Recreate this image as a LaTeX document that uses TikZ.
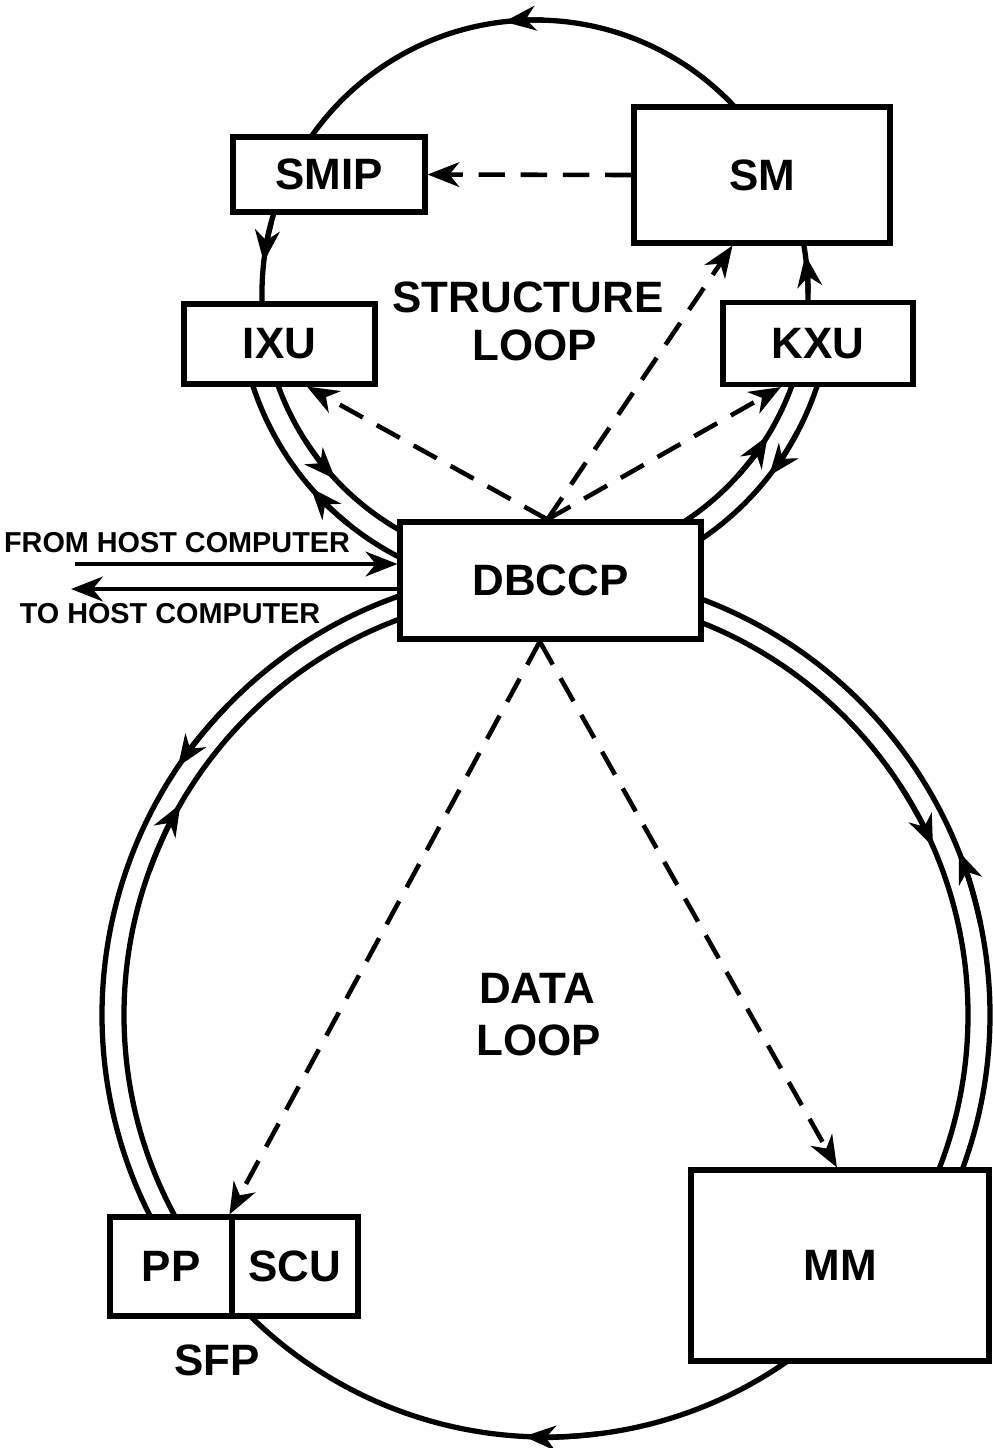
\documentclass[tikz,border=0pt]{standalone}
\usepackage{fontspec}
\setmainfont{Liberation Sans}
\usetikzlibrary{arrows.meta,calc}

% short arc along a ring ending in an arrow tip: centre, radius, from angle, to angle
\newcommand\ringtip[4]{\draw[ring,->] ($(#1)+(#3:#2)$) arc[start angle=#3, end angle=#4, radius=#2];}

\begin{document}
\begin{tikzpicture}[
  >={Stealth[length=9pt,width=7pt,inset=2.8pt]},
  unit/.style={draw, line width=1.45pt, fill=white, rectangle, inner sep=0pt,
               font=\bfseries\fontsize{12.5}{15}\selectfont},
  ring/.style={line width=1.5pt},
  flow/.style={line width=1.3pt, dash pattern=on 7.5pt off 4.5pt, ->},
  hostline/.style={line width=1.4pt, ->},
  tag/.style={font=\bfseries\fontsize{8.2}{10}\selectfont, inner sep=0pt},
  title/.style={font=\bfseries\fontsize{12.5}{15}\selectfont, inner sep=0pt},
]
\useasboundingbox (0,0) rectangle (9.93,-14.48);

% ring centres
\coordinate (U) at (5.35,-2.93);
\coordinate (L) at (5.46,-10.15);

% ---- structure loop ----
\draw[ring] (U) circle[radius=2.73];
\draw[ring] ($(U)+(195:2.97)$) arc[start angle=195, end angle=245, radius=2.97];
\draw[ring] ($(U)+(345:2.97)$) arc[start angle=345, end angle=300, radius=2.97];
\ringtip{U}{2.73}{88}{96.5}
\ringtip{U}{2.73}{165}{173.5}
\ringtip{U}{2.73}{0}{8}
\ringtip{U}{2.73}{213}{223}
\ringtip{U}{2.97}{231}{221}
\ringtip{U}{2.73}{318}{328.5}
\ringtip{U}{2.97}{332}{322}

% ---- data loop ----
\draw[ring] (L) circle[radius=4.22];
\draw[ring] ($(L)+(105:4.44)$) arc[start angle=105, end angle=210, radius=4.44];
\draw[ring] ($(L)+(75:4.44)$) arc[start angle=75, end angle=-25, radius=4.44];
\ringtip{L}{4.44}{136}{146}
\ringtip{L}{4.22}{160}{150}
\ringtip{L}{4.22}{33}{23.5}
\ringtip{L}{4.44}{12}{21.6}
\ringtip{L}{4.22}{277}{267}

% ---- units ----
\node[unit, minimum width=1.92cm, minimum height=0.75cm] (SMIP) at (3.29,-1.745) {SMIP};
\node[unit, minimum width=2.56cm, minimum height=1.36cm] (SM) at (7.62,-1.75) {SM};
\node[unit, minimum width=1.91cm, minimum height=0.80cm] (IXU) at (2.795,-3.44) {IXU};
\node[unit, minimum width=1.90cm, minimum height=0.82cm] (KXU) at (8.18,-3.435) {KXU};
\node[unit, minimum width=3.01cm, minimum height=1.17cm] (DBCCP) at (5.505,-5.805) {DBCCP};
\node[unit, minimum width=1.22cm, minimum height=0.99cm] (PP) at (1.71,-12.665) {PP};
\node[unit, minimum width=1.26cm, minimum height=0.99cm] (SCU) at (2.95,-12.665) {SCU};
\node[unit, minimum width=2.98cm, minimum height=1.91cm] (MM) at (8.40,-12.655) {MM};

% ---- control paths ----
\coordinate (dtop) at ($(DBCCP.north west)!0.49!(DBCCP.north east)$);
\coordinate (dbot) at ($(DBCCP.south west)!0.465!(DBCCP.south east)$);
\draw[flow] (SM.west) -- (SMIP.east);
\draw[flow] (dtop) -- ($(IXU.south west)!0.64!(IXU.south east)$);
\draw[flow] (dtop) -- ($(SM.south west)!0.387!(SM.south east)$);
\draw[flow] (dtop) -- ($(KXU.south west)!0.31!(KXU.south east)$);
\draw[flow] (dbot) -- (SCU.north west);
\draw[flow] (dbot) -- ($(MM.north west)!0.49!(MM.north east)$);

% ---- host link ----
\coordinate (hostin) at (0.75,-5.64);
\coordinate (hostout) at (0.71,-5.89);
\draw[hostline] (hostin) -- (DBCCP.west |- hostin);
\draw[hostline] (DBCCP.west |- hostout) -- (hostout);

% ---- labels ----
\node[tag] (from) at (1.77,-5.43) {FROM HOST COMPUTER};
\node[tag] (to) at (1.70,-6.14) {TO HOST COMPUTER};
\node[title] (st) at (5.28,-2.97) {STRUCTURE};
\node[title] (sl) at (5.35,-3.45) {LOOP};
\node[title] (da) at (5.37,-9.88) {DATA};
\node[title] (dl) at (5.39,-10.40) {LOOP};
\node[title] (sfp) at (2.17,-13.60) {SFP};
\end{tikzpicture}
\end{document}
